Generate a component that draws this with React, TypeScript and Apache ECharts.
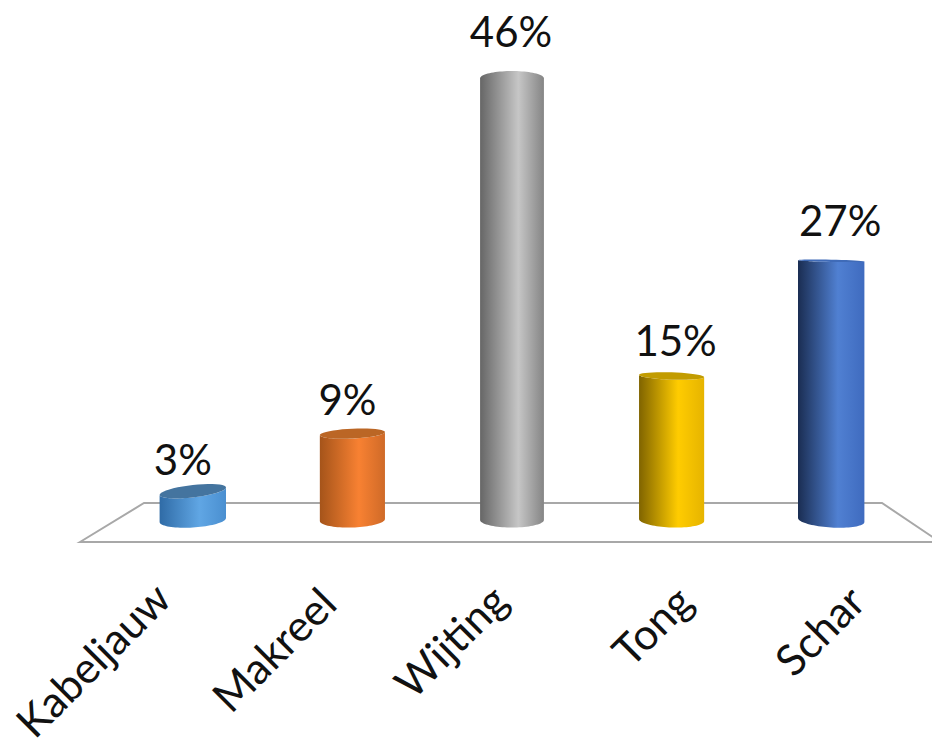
import React, { useEffect, useRef } from "react";
import * as echarts from "echarts";

const categories = ["Kabeljauw", "Makreel", "Wijting", "Tong", "Schar"];
const shares = [3, 9, 46, 15, 27];

const sideStops = [
  ["#2f6ba6", "#60a6e4", "#4a8fd0"],
  ["#a5541a", "#f88132", "#cf6a28"],
  ["#666666", "#c6c6c6", "#858585"],
  ["#806400", "#ffcc00", "#e6b400"],
  ["#1a2d52", "#5080d2", "#3f6bbf"],
];
const capColors = ["#44749f", "#bb6625", "#8f8f8f", "#c29c00", "#3f6bb8"];
const valueNudgeX = [-10, -5, -1, 4, 9];
const catNudgeX = [-31, -25, -13, 12, 25];
const catNudgeY = [8, 13, 10, 11, 11];

const FONT = "Lato";
const HORIZON_Y = 255;
const VANISH_X = 512;

function ellipseArc(
  cx: number, cy: number, rx: number, ry: number, shear: number,
  from: number, to: number
) {
  const pts: string[] = [];
  const n = 40;
  for (let k = 0; k <= n; k++) {
    const t = from + ((to - from) * k) / n;
    pts.push(`${cx + rx * Math.cos(t)} ${cy + ry * Math.sin(t) + shear * Math.cos(t)}`);
  }
  return pts;
}

function renderCylinder(params: any, api: any) {
  const i = params.dataIndex;
  const value = api.value(1);
  const [cx, capY] = api.coord([api.value(0), value]);
  const [, baseY] = api.coord([api.value(0), 0]);
  const rx = api.size([1, 0])[0] * 0.2 + Math.abs(cx - VANISH_X) * 0.004;
  const capRy = Math.abs(capY - HORIZON_Y) * 0.022 + 1;
  const lean = (VANISH_X - cx) / 320;
  const capShear = capY > HORIZON_Y ? -lean * 3 * (capRy / 5) : 0;
  const baseShear = -lean * 2;
  const showCap = capY > HORIZON_Y;
  const bottom = ellipseArc(cx, baseY, rx, 7.5, baseShear, 0, Math.PI);
  const top = showCap
    ? ellipseArc(cx, capY, rx, capRy, capShear, Math.PI, 0)
    : ellipseArc(cx, capY, rx, capRy + 2.5, 0, Math.PI, 2 * Math.PI);
  const sidePts = [...bottom, ...top];
  const sideD = "M " + sidePts.join(" L ") + " Z";
  const capPts = ellipseArc(cx, capY, rx, capRy, capShear, 0, 2 * Math.PI);
  const capD = "M " + capPts.join(" L ") + " Z";
  const stops = sideStops[i];
  const children: any[] = [
    {
      type: "path",
      shape: { pathData: sideD },
      style: {
        fill: new echarts.graphic.LinearGradient(0, 0, 1, 0, [
          { offset: 0, color: stops[0] },
          { offset: 0.6, color: stops[1] },
          { offset: 1, color: stops[2] },
        ]),
      },
    },
  ];
  if (showCap) {
    children.push({
      type: "path",
      shape: { pathData: capD },
      style: { fill: capColors[i] },
    });
  }
  children.push({
    type: "text",
    style: {
      text: `${value}%`,
      x: cx + valueNudgeX[i],
      y: capY - 31 - value * 0.35,
      align: "center",
      verticalAlign: "middle",
      fontFamily: FONT,
      fontSize: 42,
      fill: "#111111",
    },
  });
  children.push({
    type: "text",
    x: cx + catNudgeX[i],
    y: baseY + 62 + catNudgeY[i],
    rotation: Math.PI / 4,
    style: {
      text: categories[i],
      x: 0,
      y: 0,
      align: "right",
      verticalAlign: "middle",
      fontFamily: FONT,
      fontSize: 43,
      fill: "#111111",
    },
  });
  return { type: "group", children };
}

export default function App() {
  const ref = useRef<HTMLDivElement>(null);
  useEffect(() => {
    const chart = echarts.init(ref.current!, null, { renderer: "svg" });
    chart.setOption({
      animation: false,
      backgroundColor: "#ffffff",
      grid: { left: 113, width: 798, top: 40, height: 480 },
      xAxis: {
        type: "category",
        data: categories,
        axisLine: { show: false },
        axisTick: { show: false },
        axisLabel: { show: false },
      },
      yAxis: { type: "value", min: 0, max: 50, show: false },
      graphic: [
        {
          type: "polygon",
          z: 0,
          shape: { points: [[80, 542], [144, 503], [882, 503], [940, 542]] },
          style: { fill: "#ffffff", stroke: "#a8a8a8", lineWidth: 2 },
        },
      ],
      series: [
        {
          type: "custom",
          z: 5,
          clip: false,
          renderItem: renderCylinder,
          encode: { x: 0, y: 1 },
          data: shares.map((v, i) => [i, v]),
        },
      ],
    });
    return () => chart.dispose();
  }, []);
  return (
    <div
      ref={ref}
      style={{ position: "fixed", left: 0, top: 0, width: 932, height: 744 }}
    />
  );
}
